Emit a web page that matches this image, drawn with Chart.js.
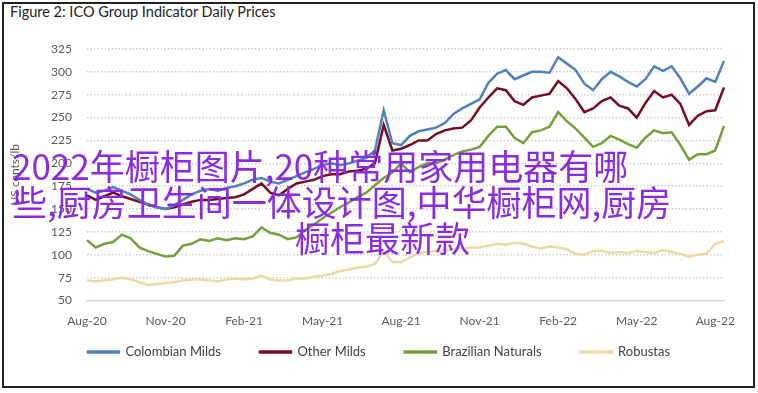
<!DOCTYPE html>
<html>
<head>
<meta charset="utf-8">
<script src="https://cdn.jsdelivr.net/npm/chart.js@4.4.0/dist/chart.umd.min.js"></script>
<style>
  html, body { margin: 0; padding: 0; background: #fff; }
  #wrap { position: relative; width: 758px; height: 393px; overflow: hidden; }
  #frame { position: absolute; left: 2px; top: 2px; width: 753px; height: 386px; border: 2px solid #222; box-sizing: border-box; }
  #title { position: absolute; left: 10px; top: 4px; font: 14.5px Lato, sans-serif; line-height: 16px; color: #222; }
  #chart { position: absolute; left: 0; top: 0; }
  #overlay { position: absolute; left: 12px; top: 147px; font: 35px "Noto Sans CJK SC", sans-serif; line-height: 36px; color: #8a2be2; white-space: nowrap; }
  #overlay span { display: block; }
</style>
</head>
<body>
<div id="wrap">
  <div id="frame"></div>
  <div id="title">Figure 2: ICO Group Indicator Daily Prices</div>
  <canvas id="chart" width="758" height="393"></canvas>
  <div id="overlay">
    <span>2022年橱柜图片,20种常用家用电器有哪</span>
    <span>些,厨房卫生间一体设计图,中华橱柜网,厨房</span>
    <span style="margin-left:283px">橱柜最新款</span>
  </div>
</div>
<script>
// Meses del eje X (un punto cada ~10 días)
const months = ['Aug-20', 'Sep-20', 'Oct-20', 'Nov-20', 'Dec-20', 'Jan-21', 'Feb-21', 'Mar-21', 'Apr-21',
  'May-21', 'Jun-21', 'Jul-21', 'Aug-21', 'Sep-21', 'Oct-21', 'Nov-21', 'Dec-21', 'Jan-22', 'Feb-22',
  'Mar-22', 'Apr-22', 'May-22', 'Jun-22', 'Jul-22', 'Aug-22'];
const dayMarks = [1, 11, 21];

// Precios (US cents/lb)
const colombianMilds = [172, 168, 170, 174, 170, 166, 160, 155, 152, 150,
  154, 160, 166, 170, 172, 170, 173, 175, 178, 182,
  184, 180, 178, 182, 186, 190, 194, 198, 200, 198,
  200, 203, 206, 214, 258, 222, 220, 230, 235, 237,
  239, 244, 254, 260, 265, 270, 288, 298, 302, 292,
  296, 300, 300, 299, 316, 309, 302, 287, 280, 292,
  300, 295, 289, 284, 292, 306, 301, 306, 293, 276,
  284, 293, 289, 312];
const otherMilds = [165, 160, 164, 168, 164, 161, 158, 155, 152, 150,
  152, 155, 158, 160, 160, 161, 162, 163, 166, 172,
  178, 168, 165, 172, 178, 180, 182, 186, 188, 188,
  191, 192, 194, 200, 242, 214, 216, 220, 225, 225,
  232, 236, 238, 239, 247, 261, 272, 282, 280, 268,
  264, 272, 274, 276, 290, 282, 270, 256, 260, 268,
  272, 263, 260, 250, 266, 279, 272, 275, 265, 242,
  252, 257, 258, 283];
const brazilianNaturals = [116, 108, 112, 114, 122, 118, 108, 104, 101, 98,
  99, 110, 112, 117, 115, 118, 116, 118, 117, 120,
  130, 124, 122, 117, 119, 127, 133, 140, 146, 152,
  157, 163, 168, 176, 184, 190, 200, 190, 196, 200,
  200, 204, 209, 213, 215, 218, 230, 240, 240, 228,
  222, 234, 236, 240, 256, 246, 238, 228, 218, 222,
  230, 226, 221, 217, 228, 236, 233, 234, 220, 204,
  210, 210, 214, 241];
const robustas = [72, 71, 72, 73, 75, 73, 70, 67, 68, 69,
  70, 72, 73, 73, 72, 71, 73, 74, 73, 74,
  77, 73, 72, 72, 74, 74, 76, 77, 79, 82,
  84, 86, 87, 90, 104, 92, 92, 97, 102, 103,
  104, 105, 106, 107, 108, 108, 110, 112, 111, 113,
  112, 109, 107, 109, 108, 106, 101, 100, 104, 104,
  102, 103, 102, 104, 103, 102, 105, 103, 101, 98,
  100, 101, 112, 115];

const labels = [];
months.forEach(m => dayMarks.forEach(d => labels.push(d + '-' + m)));
labels.length = colombianMilds.length;

const FONT = 'Lato, sans-serif';

// Ajuste del cuadro de leyenda (centrada en todo el ancho)
const legendLayout = {
  id: 'legendLayout',
  beforeLayout(chart) {
    const legend = chart.legend;
    if (!legend || legend._patched) return;
    const fit = legend.fit;
    legend.fit = function () { fit.call(this); this.height = 20; };
    legend._patched = true;
  },
  afterLayout(chart) {
    const legend = chart.legend;
    legend.left = 0; legend.right = 758; legend.width = 758;
    legend.top = 306.5; legend.bottom = 388; legend.height = 81.5;
  }
};

const ctx = document.getElementById('chart').getContext('2d');
new Chart(ctx, {
  type: 'line',
  data: {
    labels: labels,
    datasets: [
      { label: 'Colombian Milds', data: colombianMilds, borderColor: '#4f81bd', backgroundColor: '#4f81bd' },
      { label: 'Other Milds', data: otherMilds, borderColor: '#760d22', backgroundColor: '#760d22' },
      { label: 'Brazilian Naturals', data: brazilianNaturals, borderColor: '#74a03e', backgroundColor: '#74a03e' },
      { label: 'Robustas', data: robustas, borderColor: '#eed8a6', backgroundColor: '#eed8a6' }
    ]
  },
  options: {
    responsive: false,
    animation: false,
    layout: { padding: { left: 4, right: 34, top: 49, bottom: 32.5 } },
    elements: {
      line: { borderWidth: 2.5, tension: 0 },
      point: { radius: 0 }
    },
    plugins: {
      legend: {
        position: 'bottom',
        labels: { boxWidth: 31, boxHeight: 1, padding: 39, color: '#404040', font: { family: FONT, size: 13 } }
      },
      tooltip: { enabled: false }
    },
    scales: {
      x: {
        type: 'category',
        offset: false,
        grid: { display: false, drawTicks: false },
        border: { display: true, color: '#d9d9d9', width: 1.5 },
        ticks: {
          autoSkip: false, maxRotation: 0, padding: 13, color: '#595959',
          font: { family: FONT, size: 12 },
          callback: (v, i) => (i % 9 === 0 ? months[i / 3] : null)
        },
        afterFit: scale => { scale.height = 40; }
      },
      y: {
        min: 50, max: 325,
        grid: {
          drawTicks: false, lineWidth: 1.5,
          color: c => (c.tick && c.tick.value === 50 ? 'rgba(0,0,0,0)' : '#cdcdcd')
        },
        border: { display: false, dash: [1.5, 2] },
        ticks: { stepSize: 25, padding: 15, color: '#595959', font: { family: FONT, size: 12 } },
        title: { display: true, text: 'US cents/lb', color: '#595959', font: { family: FONT, size: 12 }, padding: { top: 4, bottom: 0 } },
        afterFit: scale => { scale.width = 83; }
      }
    }
  },
  plugins: [legendLayout]
});
</script>
</body>
</html>
